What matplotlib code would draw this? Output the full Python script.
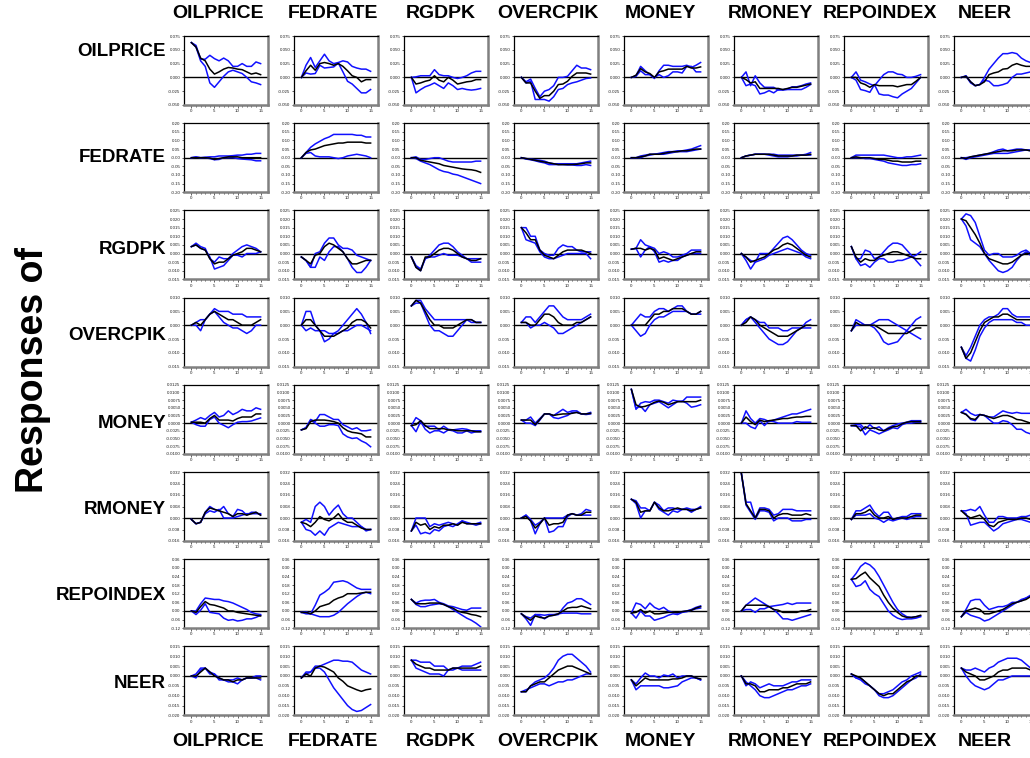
import numpy as np
import matplotlib
matplotlib.use("Agg")
import matplotlib.pyplot as plt

plt.rcParams['font.family'] = ['Liberation Sans', 'DejaVu Sans']

names = ["OILPRICE", "FEDRATE", "RGDPK", "OVERCPIK", "MONEY", "RMONEY", "REPOINDEX", "NEER"]
steps = list(range(16))

# y-axis scale of each response row: (low, high, step, decimals)
yscales = [(-0.050, 0.075, 0.025, 3), (-0.20, 0.20, 0.05, 2), (-0.015, 0.025, 0.005, 3),
           (-0.015, 0.010, 0.005, 3), (-0.0100, 0.0125, 0.0025, 4), (-0.016, 0.032, 0.008, 3),
           (-0.12, 0.36, 0.06, 2), (-0.020, 0.015, 0.005, 3)]

# each panel: [response, band 1, band 2]; rows = response of, columns = shock to
oil_oil = [[.063, .055, .035, .03, .015, .006, .01, .015, .018, .017, .015, .014, .01, .006, .008, .005],
           [.063, .058, .033, .033, .04, .034, .03, .035, .03, .02, .02, .025, .02, .02, .028, .025],
           [.063, .055, .03, .02, -.01, -.018, -.008, .002, .01, .013, .01, .007, 0, -.008, -.01, -.013]]
oil_fed = [[0, .012, .022, .013, .025, .027, .025, .022, .025, .02, .012, .003, 0, -.008, -.004, -.004],
           [0, .022, .036, .018, .03, .042, .03, .025, .027, .03, .028, .02, .017, .015, .015, .011],
           [0, .008, .006, .007, .022, .017, .018, .019, .026, .01, -.007, -.012, -.02, -.028, -.028, -.022]]
oil_gdp = [[0, -.012, -.01, -.007, -.005, .003, -.005, -.008, 0, -.005, -.012, -.01, -.008, -.007, -.004, -.004],
           [0, .001, .003, .003, .003, .014, .005, .003, .003, 0, -.002, 0, .003, .008, .011, .011],
           [0, -.028, -.022, -.017, -.014, -.01, -.015, -.02, -.01, -.015, -.022, -.02, -.022, -.023, -.022, -.02]]
oil_cpi = [[0, -.01, -.01, -.025, -.038, -.033, -.033, -.025, -.013, -.012, -.007, .002, .008, .008, .008, .006],
           [0, -.008, -.003, -.02, -.035, -.025, -.022, -.015, 0, 0, .002, .012, .022, .017, .017, .014],
           [0, -.01, -.007, -.04, -.04, -.04, -.043, -.035, -.022, -.02, -.013, -.01, -.008, -.005, -.002, -.001]]
oil_mon = [[0, .004, .016, .01, .007, 0, .01, .012, .015, .015, .015, .015, .02, .017, .017, .019],
           [0, .003, .02, .012, .005, -.002, .012, .022, .022, .02, .02, .02, .022, .018, .022, .027],
           [0, .002, .012, .005, .005, 0, .005, 0, .003, .01, .01, .008, .02, .02, .01, .01]]
oil_rmo = [[0, -.004, -.01, -.008, -.02, -.02, -.02, -.02, -.02, -.022, -.02, -.018, -.018, -.016, -.014, -.012],
           [0, .01, -.015, .003, -.01, -.018, -.018, -.018, -.023, -.022, -.021, -.017, -.017, -.015, -.012, -.01],
           [0, -.015, -.012, -.015, -.03, -.028, -.024, -.028, -.022, -.023, -.022, -.022, -.022, -.022, -.018, -.013]]
oil_rep = [[0, 0, -.01, -.013, -.018, -.013, -.015, -.015, -.015, -.015, -.017, -.015, -.013, -.013, -.007, 0],
           [0, .01, -.005, -.008, -.012, -.015, -.005, .005, .01, .01, .006, .005, 0, 0, .002, .005],
           [0, -.005, -.022, -.024, -.027, -.013, -.03, -.032, -.032, -.035, -.037, -.03, -.025, -.02, -.01, 0]]
oil_neer = [[0, .002, -.008, -.015, -.013, -.008, .005, .008, .01, .015, .016, .022, .025, .022, .02, .02],
            [0, .003, -.008, -.015, -.013, 0, .015, .025, .035, .043, .043, .045, .043, .035, .03, .027],
            [0, .002, -.01, -.015, -.013, -.005, -.007, -.015, -.015, -.013, -.01, 0, .006, .006, .008, .01]]

fed_oil = [[0, 0, 0, 0, -.002, -.01, -.005, 0, .005, .005, .005, 0, 0, 0, 0, 0],
           [0, .005, 0, .003, .005, .005, .01, .01, .01, .012, .015, .015, .02, .02, .025, .025],
           [0, .002, 0, 0, -.005, -.012, -.01, 0, 0, 0, -.005, -.008, -.01, -.012, -.018, -.018]]
fed_fed = [[0, .03, .045, .05, .06, .07, .075, .08, .085, .085, .09, .09, .09, .09, .085, .085],
           [0, .03, .06, .08, .095, .11, .12, .135, .135, .135, .135, .135, .13, .13, .12, .12],
           [0, .025, .03, .01, .005, .005, .005, 0, -.005, 0, .01, .015, .02, .015, .01, 0]]
fed_gdp = [[0, 0, -.015, -.02, -.025, -.03, -.035, -.045, -.05, -.055, -.06, -.065, -.068, -.07, -.075, -.085],
           [0, .005, -.01, -.01, -.005, 0, 0, -.01, -.02, -.025, -.025, -.025, -.025, -.025, -.02, -.02],
           [0, -.005, -.02, -.03, -.04, -.055, -.07, -.08, -.085, -.095, -.1, -.11, -.12, -.13, -.14, -.15]]
fed_cpi = [[0, -.005, -.01, -.015, -.02, -.025, -.03, -.035, -.04, -.04, -.04, -.04, -.038, -.035, -.03, -.03],
           [0, -.005, -.008, -.012, -.015, -.02, -.03, -.035, -.035, -.035, -.035, -.035, -.035, -.03, -.025, -.02],
           [0, -.008, -.012, -.018, -.025, -.03, -.04, -.04, -.04, -.04, -.042, -.042, -.045, -.045, -.04, -.045]]
fed_mon = [[0, 0, .005, .01, .02, .02, .02, .025, .03, .035, .035, .04, .04, .045, .05, .05],
           [0, 0, .01, .015, .02, .02, .025, .03, .035, .035, .04, .04, .045, .05, .06, .07],
           [0, 0, 0, .01, .015, .02, .02, .02, .025, .03, .035, .035, .035, .04, .045, .05]]
fed_rmo = [[0, .01, .015, .02, .02, .02, .02, .015, .01, .01, .01, .01, .015, .015, .015, .02],
           [0, .01, .015, .02, .02, .02, .02, .02, .015, .015, .015, .015, .015, .015, .02, .03],
           [0, .01, .015, .02, .02, .02, .015, .01, .005, .005, .005, .01, .01, .015, .015, .015]]
fed_rep = [[0, .005, 0, 0, 0, -.005, -.01, -.01, -.015, -.02, -.02, -.025, -.025, -.025, -.02, -.02],
           [0, .015, .015, .015, .015, .015, .015, .015, .01, .005, 0, 0, .005, .005, .01, .015],
           [0, 0, 0, -.005, -.005, -.01, -.015, -.02, -.03, -.035, -.04, -.045, -.045, -.04, -.04, -.035]]
fed_neer = [[0, -.005, .005, .01, .015, .02, .025, .03, .035, .04, .04, .04, .045, .045, .045, .04],
            [0, 0, .005, .01, .015, .02, .025, .035, .045, .05, .04, .045, .05, .05, .045, .045],
            [0, -.01, 0, .005, .01, .015, .02, .025, .025, .025, .025, .03, .035, .04, .045, .04]]

gdp_oil = [[.004, .005, .003, .002, -.003, -.006, -.005, -.005, -.003, -.001, 0, .001, .003, .003, .002, .001],
           [.004, .006, .004, .003, -.003, -.005, -.002, -.003, -.003, 0, .002, .004, .005, .004, .003, .001],
           [.004, .005, .003, .002, -.002, -.009, -.008, -.007, -.004, -.001, -.001, -.002, 0, 0, 0, .001]]
gdp_fed = [[-.002, -.004, -.006, -.001, 0, .004, .006, .005, .003, .001, -.003, -.006, -.006, -.005, -.004, -.004],
           [-.002, -.004, -.008, 0, .001, .006, .009, .009, .005, .003, .003, .002, -.001, -.002, -.003, -.004],
           [-.002, -.004, -.008, -.008, -.002, -.004, .001, .004, .004, .001, -.003, -.008, -.011, -.011, -.008, -.004]]
gdp_gdp = [[-.002, -.008, -.01, -.002, -.002, 0, .002, .003, .003, .002, 0, -.002, -.003, -.004, -.004, -.003],
           [-.002, -.008, -.01, -.003, -.001, .002, .005, .006, .006, .004, .001, -.001, -.003, -.003, -.003, -.003],
           [-.002, -.007, -.009, -.003, -.002, -.002, -.001, 0, -.001, -.001, -.001, -.002, -.003, -.005, -.005, -.005]]
gdp_cpi = [[.015, .012, .008, .008, .002, -.001, -.002, -.003, -.001, .001, .002, .002, .002, .002, .001, 0],
           [.015, .015, .01, .01, .002, 0, -.001, -.001, .003, .005, .004, .004, .002, .001, .001, .001],
           [.015, .008, .007, .006, .001, -.002, -.003, -.003, -.002, -.001, 0, 0, 0, 0, 0, -.003]]
gdp_mon = [[.0025, .003, .003, .002, .003, .002, -.003, -.002, -.003, -.004, -.003, -.002, -.001, 0, .001, .001],
           [.0025, .003, .008, .005, .004, .003, 0, .001, 0, -.002, -.002, -.001, 0, .002, .002, .002],
           [.0025, .003, -.002, .002, .004, .001, -.005, -.004, -.005, -.004, -.004, -.002, -.001, 0, 0, 0]]
gdp_rmo = [[0, -.002, -.005, -.004, -.003, -.002, 0, .002, .003, .005, .006, .005, .003, .001, -.001, -.002],
           [0, -.002, -.004, -.005, 0, 0, 0, .003, .006, .009, .01, .008, .005, .002, 0, -.001],
           [0, -.004, -.009, -.005, -.004, -.003, -.001, 0, .001, .002, .003, .002, .001, 0, -.002, -.003]]
gdp_rep = [[.004, -.002, -.005, -.003, -.004, -.004, -.002, -.001, 0, .001, .001, 0, -.001, -.002, -.003, -.003],
           [.004, -.003, -.003, .002, .001, -.003, -.002, .001, .004, .006, .006, .005, .002, -.001, -.004, -.007],
           [.004, -.003, -.007, -.006, -.008, -.005, -.003, -.003, -.005, -.005, -.004, -.004, -.003, -.002, -.001, .001]]
gdp_neer = [[.02, .019, .015, .011, .006, 0, -.003, -.004, -.005, -.006, -.006, -.005, -.003, -.001, 0, 0],
            [.02, .023, .022, .018, .01, .002, -.001, 0, 0, -.002, -.002, -.002, -.001, .001, .002, 0],
            [.02, .016, .008, .006, .004, 0, -.004, -.007, -.01, -.011, -.01, -.008, -.004, -.001, .001, -.001]]

cpi_oil = [[0, .001, 0, .002, .004, .005, .004, .003, .002, .002, .001, 0, 0, 0, .001, .002],
           [0, .001, .002, .002, .004, .006, .005, .005, .005, .004, .004, .004, .003, .003, .003, .003],
           [0, 0, -.002, .002, .004, .005, .003, .001, 0, -.001, -.001, -.002, -.003, -.002, 0, 0]]
cpi_fed = [[0, .002, .002, 0, -.002, -.004, -.004, -.004, -.003, -.002, -.001, .001, .002, .002, .001, -.001],
           [0, .005, .005, 0, -.002, -.006, -.005, -.003, -.002, 0, .002, .004, .006, .004, .001, -.003],
           [0, -.002, -.001, -.002, -.002, -.002, -.003, -.003, -.003, -.002, -.002, -.001, 0, 0, -.001, -.002]]
cpi_gdp = [[.007, .009, .008, .005, .002, 0, 0, -.001, -.001, -.001, 0, .001, .002, .002, .001, .001],
           [.007, .009, .009, .006, .004, .002, .002, .002, .002, .002, .002, .002, .002, .001, .001, .001],
           [.007, .008, .008, .004, 0, -.002, -.002, -.003, -.004, -.004, -.002, 0, .002, .002, .001, .001]]
cpi_cpi = [[.001, .001, 0, 0, .002, .004, .004, .003, .001, 0, 0, 0, .001, .001, .002, .003],
           [.001, .003, .003, .001, .003, .005, .007, .007, .005, .003, .002, .002, .002, .002, .003, .004],
           [.001, .001, -.001, 0, 0, .001, 0, -.001, -.003, -.003, -.002, -.001, 0, .001, .002, .003]]
cpi_mon = [[0, 0, 0, 0, .002, .004, .004, .005, .005, .006, .006, .006, .005, .004, .004, .005],
           [0, .002, .004, .003, .003, .005, .006, .006, .005, .006, .007, .007, .005, .004, .004, .005],
           [0, -.002, -.004, -.003, 0, .002, .003, .003, .004, .005, .005, .005, .005, .004, .004, .004]]
cpi_rmo = [[0, .001, .003, .002, 0, -.001, -.002, -.003, -.004, -.004, -.004, -.003, -.002, -.001, 0, 0],
           [0, .002, .003, .002, .001, .001, -.001, -.001, -.001, -.002, -.002, -.001, -.001, -.001, .001, .002],
           [0, .002, .003, .001, -.001, -.003, -.005, -.006, -.007, -.007, -.006, -.004, -.002, -.001, -.001, -.001]]
cpi_rep = [[-.002, .001, 0, 0, 0, 0, -.001, -.002, -.003, -.003, -.003, -.003, -.003, -.002, -.001, -.001],
           [-.002, .002, .001, 0, 0, .001, .002, .002, .002, .001, 0, -.001, -.002, -.003, -.004, -.005],
           [-.002, 0, 0, 0, 0, -.001, -.003, -.006, -.007, -.0065, -.006, -.004, -.002, 0, .002, .003]]
cpi_neer = [[-.008, -.012, -.01, -.006, -.002, .001, .002, .003, .003, .004, .004, .003, .002, .002, .002, .002],
            [-.008, -.011, -.008, -.004, 0, .002, .003, .003, .004, .006, .006, .004, .003, .003, .003, .003],
            [-.008, -.012, -.013, -.009, -.004, -.001, .001, .002, .002, .002, .002, .002, .001, .001, 0, 0]]

mon_oil = [[.0003, .0003, .0003, 0, .0015, .0025, .001, .001, .001, .0007, .0015, .002, .002, .002, .003, .003],
           [.0003, .001, .0018, .0012, .0025, .0035, .002, .0025, .004, .0028, .0035, .0045, .004, .004, .005, .0045],
           [.0003, -.0005, -.001, -.001, .0012, .002, 0, -.0007, -.0015, -.0005, .0003, .0005, .0005, .0007, .0012, .0017]]
mon_fed = [[-.0022, -.0018, .0005, .001, .001, .001, .0008, .0005, 0, -.0015, -.0025, -.003, -.0032, -.0035, -.0045, -.0045],
           [-.0022, -.0015, .0012, .0005, .0028, .0028, .002, .0012, .0012, -.0005, -.0012, -.002, -.0015, -.0025, -.0025, -.0022],
           [-.0022, -.0015, .001, 0, -.001, -.001, -.0005, -.0005, -.0008, -.0035, -.0045, -.005, -.0048, -.0058, -.0065, -.0077]]
mon_gdp = [[-.0008, -.0005, .0008, -.0008, -.0018, -.0018, -.0018, -.0018, -.0022, -.0022, -.0025, -.0025, -.0025, -.0025, -.0028, -.0028],
           [-.0008, .0018, .0008, -.001, -.001, -.001, -.0022, -.001, -.002, -.0022, -.002, -.0018, -.002, -.0025, -.0025, -.0025],
           [-.0008, -.0028, .0005, -.002, -.0032, -.0025, -.0025, -.0032, -.0022, -.0025, -.0032, -.0032, -.0025, -.0032, -.0028, -.0028]]
mon_cpi = [[.001, .001, .001, -.0005, .0012, .003, .003, .0025, .0028, .003, .003, .0032, .0035, .003, .003, .0032],
           [.001, .001, .002, 0, .0015, .003, .003, .0025, .0035, .0045, .0035, .004, .004, .003, .003, .0035],
           [.001, 0, 0, -.0008, .001, .003, .003, .0018, .0015, .002, .0025, .0035, .0035, .003, .0028, .003]]
mon_mon = [[.011, .006, .0052, .0055, .006, .0068, .0072, .0068, .006, .0065, .007, .007, .007, .007, .007, .0075],
           [.011, .0045, .0065, .007, .0068, .0075, .0075, .007, .0065, .0075, .0072, .007, .0085, .0085, .0085, .0085],
           [.011, .0048, .0055, .0038, .006, .0065, .007, .006, .005, .006, .007, .0072, .0065, .0052, .0055, .006]]
mon_rmo = [[0, .002, .0005, -.0005, .001, .0005, .0008, .001, .0012, .0015, .0015, .0018, .002, .002, .0022, .0022],
           [0, .004, .0015, 0, .0015, .0012, .0005, .001, .0015, .002, .0025, .003, .003, .0035, .004, .0045],
           [0, 0, -.0012, -.0018, .0008, -.0008, .0008, .0005, 0, 0, 0, 0, .0005, .0003, .0003, .0003]]
mon_rep = [[-.0008, -.0008, -.0025, -.0012, -.0018, -.0015, -.0022, -.0025, -.0018, -.0012, -.001, -.0002, .0003, .0005, .0005, .0005],
           [-.0008, -.0005, -.0005, -.002, -.0005, -.0018, -.0012, -.0025, -.0015, -.0008, -.0003, 0, .0003, .0008, .0008, .0008],
           [-.0008, -.001, -.0012, -.0038, -.0022, -.0028, -.0035, -.0028, -.0022, -.0015, -.0018, -.0005, 0, 0, .0003, .0003]]
mon_neer = [[.0035, .0028, .0015, .0012, .0028, .0025, .002, .0015, .002, .0025, .0025, .002, .0012, .001, .0005, 0],
            [.0035, .0045, .0032, .0025, .0028, .0025, .002, .002, .003, .004, .0035, .0032, .0035, .0032, .0032, .0032],
            [.0035, .003, .0012, .0008, .0028, .0025, .0012, 0, 0, .0008, .0005, -.0005, -.002, -.002, -.003, -.0035]]

rmo_oil = [[-.001, -.004, -.003, .004, .007, .006, .005, .004, .003, .001, .003, .003, .002, .003, .004, .002],
           [-.001, -.004, -.003, .004, .008, .006, .005, .008, .003, .001, .006, .005, .002, .004, .004, .002],
           [-.001, -.004, -.003, .003, .005, .004, .006, 0, 0, 0, .001, .002, .003, .003, .003, .003]]
rmo_fed = [[-.003, -.004, -.006, -.003, .001, -.001, -.002, 0, .003, -.001, -.003, -.003, -.005, -.007, -.008, -.008],
           [-.003, -.001, -.003, .008, .011, .008, .002, .006, .009, .003, 0, 0, -.003, -.006, -.008, -.008],
           [-.003, -.008, -.009, -.012, -.009, -.012, -.007, -.005, -.003, -.004, -.005, -.006, -.006, -.006, -.009, -.008]]
rmo_gdp = [[-.009, -.003, -.005, -.004, -.008, -.006, -.007, -.005, -.005, -.004, -.005, -.003, -.004, -.004, -.004, -.004],
           [-.009, 0, 0, 0, -.006, -.004, -.005, -.004, -.003, -.004, -.005, -.002, -.003, -.004, -.004, -.003],
           [-.009, -.005, -.011, -.01, -.011, -.008, -.009, -.006, -.005, -.006, -.004, -.002, -.004, -.004, -.005, -.004]]
rmo_cpi = [[0, .001, -.002, -.007, -.004, 0, -.005, -.004, -.004, -.003, .002, .003, .002, .002, .004, .004],
           [0, .002, -.001, -.005, -.003, 0, 0, 0, 0, 0, .002, .003, .002, .003, .006, .005],
           [0, .002, -.002, -.011, -.004, 0, -.01, -.009, -.006, -.006, .001, .003, .002, .002, .002, .002]]
rmo_mon = [[.013, .011, .004, .005, .005, .011, .007, .005, .005, .006, .007, .006, .006, .005, .006, .007],
           [.013, .012, .007, .007, .005, .011, .009, .005, .007, .007, .006, .006, .007, .006, .006, .008],
           [.013, .01, 0, .005, .005, .011, .006, .004, .002, .005, .004, .006, .006, .004, .006, .007]]
rmo_rmo = [[.031, .01, .005, 0, .006, .006, .005, 0, .002, .003, .003, .002, .002, .002, .003, .002],
           [.031, .011, .011, 0, .007, .007, .006, .002, .003, .006, .006, .006, .005, .005, .005, .005],
           [.031, .009, .004, -.001, .005, .005, .004, -.002, 0, 0, 0, -.002, -.002, -.002, -.001, -.001]]
rmo_rep = [[-.001, .003, .003, .004, .006, .002, 0, 0, .001, -.001, 0, 0, 0, .001, .002, .002],
           [-.001, .005, .005, .007, .009, .004, .001, .004, .004, -.001, 0, .001, .001, .003, .003, .003],
           [-.001, .002, .002, .002, .003, 0, -.001, -.003, -.001, -.002, -.001, 0, -.001, 0, .001, .001]]
rmo_neer = [[.005, .002, 0, .001, .002, -.001, -.005, -.006, -.003, -.002, -.001, -.001, -.001, 0, 0, -.001],
            [.005, .005, .006, .005, .008, .002, -.003, -.003, .001, .001, 0, 0, 0, .001, .001, .002],
            [.005, .003, -.005, -.004, -.003, -.003, -.006, -.009, -.007, -.004, -.003, -.002, -.001, -.001, -.002, -.003]]

rep_oil = [[0, -.01, .03, .065, .045, .04, .03, .02, 0, 0, -.01, -.015, -.02, -.025, -.03, -.035],
           [0, 0, .05, .09, .085, .08, .08, .07, .065, .055, .04, .025, .01, -.01, -.02, -.025],
           [0, -.025, .005, .05, -.01, -.015, -.02, -.05, -.065, -.06, -.07, -.065, -.055, -.055, -.045, -.03]]
rep_fed = [[-.01, -.01, -.02, 0, .03, .04, .05, .075, .09, .1, .12, .12, .12, .125, .13, .13],
           [-.01, -.005, -.02, .04, .11, .13, .155, .2, .205, .21, .2, .18, .16, .15, .15, .15],
           [-.01, -.02, -.02, -.03, -.04, -.04, -.04, -.03, -.01, .02, .05, .075, .1, .12, .13, .12]]
rep_gdp = [[.08, .05, .05, .05, .055, .055, .055, .045, .03, .02, 0, -.01, -.015, -.025, -.03, -.04],
           [.08, .055, .07, .075, .075, .08, .06, .05, .035, .03, .02, .01, .005, .02, .02, .02],
           [.08, .045, .03, .03, .04, .045, .05, .045, .03, .01, -.01, -.03, -.05, -.065, -.085, -.11]]
rep_cpi = [[-.02, -.045, -.065, -.035, -.045, -.05, -.035, -.03, -.02, 0, .02, .025, .025, .035, .025, .015],
           [-.02, -.04, -.05, -.025, -.035, -.055, -.035, -.03, -.025, .02, .055, .065, .085, .085, .065, .045],
           [-.02, -.055, -.1, -.025, -.025, -.03, -.025, -.025, -.02, -.015, -.015, -.015, -.015, -.02, -.02, -.02]]
rep_mon = [[-.015, -.01, .01, -.015, 0, -.02, -.02, -.015, -.01, -.01, -.01, -.005, 0, .005, .02, .03],
           [-.015, .055, .045, .015, .055, .025, .01, .025, 0, -.01, -.015, -.005, 0, .01, .025, .035],
           [-.015, -.05, 0, -.035, -.035, -.065, -.055, -.045, -.03, -.02, -.025, -.01, -.005, .005, .015, .02]]
rep_rmo = [[0, .04, .04, .04, .04, .04, .03, .01, .005, -.01, -.01, -.01, -.01, 0, 0, .01],
           [0, .04, .065, .09, .07, .05, .03, .035, .04, .045, .055, .045, .055, .055, .055, .055],
           [0, .01, .01, -.01, .015, .015, .03, .01, -.02, -.055, -.055, -.065, -.055, -.045, -.035, -.025]]
rep_rep = [[.22, .225, .25, .27, .23, .2, .17, .11, .06, .02, -.01, -.035, -.045, -.045, -.04, -.03],
           [.22, .26, .31, .335, .32, .29, .24, .18, .12, .06, .01, -.02, -.04, -.045, -.04, -.035],
           [.22, .17, .18, .21, .15, .12, .1, .05, 0, -.03, -.05, -.06, -.055, -.055, -.05, -.04]]
rep_neer = [[-.04, 0, .01, .02, .01, -.02, -.02, -.01, 0, .01, .03, .05, .06, .07, .08, .1],
            [-.04, .01, .07, .08, .08, .04, .01, .02, .03, .03, .04, .06, .06, .08, .09, .11],
            [-.04, -.01, -.03, -.04, -.05, -.07, -.06, -.04, -.02, 0, .02, .04, .06, .07, .09, .1]]

neer_oil = [[0, 0, .002, .004, .002, 0, -.001, -.002, -.002, -.003, -.002, -.002, -.001, -.001, -.001, -.001],
            [0, -.001, .003, .004, .002, .001, -.001, -.002, -.002, -.002, -.001, -.002, -.001, -.001, 0, 0],
            [0, .001, .004, .004, .001, .001, -.002, -.002, -.003, -.003, -.004, -.002, -.001, -.001, -.001, -.002]]
neer_fed = [[-.001, .001, 0, .004, .005, .0045, .0033, .002, -.001, -.0027, -.005, -.006, -.007, -.0078, -.007, -.0066],
            [-.001, .002, .002, .005, .005, .006, .007, .008, .008, .0075, .0075, .007, .005, .003, .002, .001],
            [-.001, .001, .002, .004, .004, .002, -.002, -.006, -.009, -.012, -.015, -.017, -.018, -.0175, -.016, -.0145]]
neer_gdp = [[.008, .006, .005, .004, .004, .003, .003, .003, .003, .004, .004, .004, .004, .004, .004, .005],
            [.008, .008, .007, .007, .007, .005, .005, .005, .003, .004, .004, .005, .005, .005, .006, .007],
            [.008, .004, .003, .002, .001, .001, .001, 0, .003, .003, .004, .003, .003, .003, .003, .003]]
neer_cpi = [[-.008, -.008, -.005, -.004, -.003, -.003, -.001, .001, .003, .004, .005, .005, .004, .003, .002, .001],
            [-.008, -.008, -.005, -.003, -.002, -.001, .001, .004, .008, .01, .011, .011, .009, .007, .005, .002],
            [-.008, -.007, -.006, -.005, -.004, -.004, -.005, -.004, -.003, -.003, -.002, -.002, -.001, 0, .001, .001]]
neer_mon = [[-.002, -.005, -.003, -.001, -.002, -.002, -.002, -.002, -.002, -.0015, -.0015, -.001, 0, 0, -.001, -.0015],
            [-.002, -.004, -.001, .0015, 0, 0, -.001, .0005, 0, .001, -.001, 0, 0, 0, -.001, -.002],
            [-.002, -.007, -.005, -.005, -.005, -.005, -.005, -.006, -.006, -.0055, -.005, -.003, -.002, -.001, -.001, -.002]]
neer_rmo = [[0, -.004, -.004, -.005, -.008, -.008, -.007, -.007, -.007, -.006, -.006, -.005, -.004, -.004, -.004, -.003],
            [0, -.005, -.003, -.004, -.006, -.005, -.004, -.005, -.005, -.005, -.004, -.003, -.003, -.002, -.002, -.002],
            [0, -.003, -.005, -.007, -.01, -.011, -.011, -.01, -.009, -.008, -.007, -.007, -.006, -.005, -.005, -.004]]
neer_rep = [[.001, 0, -.001, -.003, -.005, -.007, -.009, -.01, -.009, -.009, -.007, -.005, -.003, -.002, 0, 0],
            [.001, -.001, -.001, -.003, -.005, -.007, -.009, -.009, -.008, -.007, -.005, -.003, -.002, 0, .001, .002],
            [.001, -.001, -.002, -.004, -.005, -.007, -.01, -.011, -.011, -.01, -.008, -.006, -.004, -.002, -.001, .001]]
neer_neer = [[.004, .002, .001, 0, -.002, -.002, -.001, 0, .002, .003, .003, .004, .004, .004, .004, .003],
             [.004, .003, .003, .004, .003, .002, .004, .005, .007, .008, .009, .009, .009, .008, .006, .004],
             [.004, 0, -.003, -.005, -.006, -.007, -.006, -.004, -.002, -.002, -.001, 0, 0, 0, 0, 0]]

grid = [[oil_oil, oil_fed, oil_gdp, oil_cpi, oil_mon, oil_rmo, oil_rep, oil_neer],
        [fed_oil, fed_fed, fed_gdp, fed_cpi, fed_mon, fed_rmo, fed_rep, fed_neer],
        [gdp_oil, gdp_fed, gdp_gdp, gdp_cpi, gdp_mon, gdp_rmo, gdp_rep, gdp_neer],
        [cpi_oil, cpi_fed, cpi_gdp, cpi_cpi, cpi_mon, cpi_rmo, cpi_rep, cpi_neer],
        [mon_oil, mon_fed, mon_gdp, mon_cpi, mon_mon, mon_rmo, mon_rep, mon_neer],
        [rmo_oil, rmo_fed, rmo_gdp, rmo_cpi, rmo_mon, rmo_rmo, rmo_rep, rmo_neer],
        [rep_oil, rep_fed, rep_gdp, rep_cpi, rep_mon, rep_rmo, rep_rep, rep_neer],
        [neer_oil, neer_fed, neer_gdp, neer_cpi, neer_mon, neer_rmo, neer_rep, neer_neer]]

W, H = 1030, 758
fig = plt.figure(figsize=(W / 100, H / 100), dpi=100)
fig.patch.set_facecolor('white')

blue = '#1010ff'
for i in range(8):
    lo, hi, st, dec = yscales[i]
    yt = np.arange(lo, hi + st / 2, st)
    for j in range(8):
        left = 184 + 110 * j
        top = 36 + 87.2 * i
        ax = fig.add_axes([left / W, 1 - (top + 69) / H, 84 / W, 69 / H])
        m, b1, b2 = grid[i][j]
        ax.axhline(0, color='black', lw=1.0, zorder=1)
        ax.plot(steps, b1, color=blue, lw=1.1, zorder=2)
        ax.plot(steps, b2, color=blue, lw=1.1, zorder=2)
        ax.plot(steps, m, color='black', lw=1.1, zorder=3)
        ax.set_xlim(-1.6, 16.6)
        ax.set_ylim(lo, hi)
        ax.set_xticks([0, 5, 10, 15])
        ax.set_xticks(steps, minor=True)
        ax.set_yticks(yt)
        ax.set_yticklabels([f"{v:.{dec}f}" for v in yt])
        ax.tick_params(axis='both', which='both', direction='out', labelsize=3.2,
                       length=1.5, width=0.5, pad=1, colors='#222222')
        ax.tick_params(axis='x', which='major', length=2)
        for s in ['left', 'top']:
            ax.spines[s].set_color('black')
            ax.spines[s].set_linewidth(0.9)
        for s in ['right', 'bottom']:
            ax.spines[s].set_color('#808080')
            ax.spines[s].set_linewidth(1.8)

# column titles (shock variables), top and bottom
col_x = [218, 333, 441, 548, 660, 770, 880, 985]
for j, nm in enumerate(names):
    fig.text(col_x[j] / W, 1 - 14 / H, nm, ha='center', va='center',
             fontsize=14, fontweight='bold')
    fig.text(col_x[j] / W, 1 - 742 / H, nm, ha='center', va='center',
             fontsize=14, fontweight='bold')

# row titles (responding variables)
row_y = [52, 157, 250, 336, 424, 510, 596, 683]
for i, nm in enumerate(names):
    fig.text(166 / W, 1 - row_y[i] / H, nm, ha='right', va='center',
             fontsize=13.5, fontweight='bold')

fig.text(33 / W, 1 - 370 / H, "Responses of", rotation=90, ha='center', va='center',
         fontsize=27, fontweight='bold')

fig.savefig("out.png", dpi=100)
